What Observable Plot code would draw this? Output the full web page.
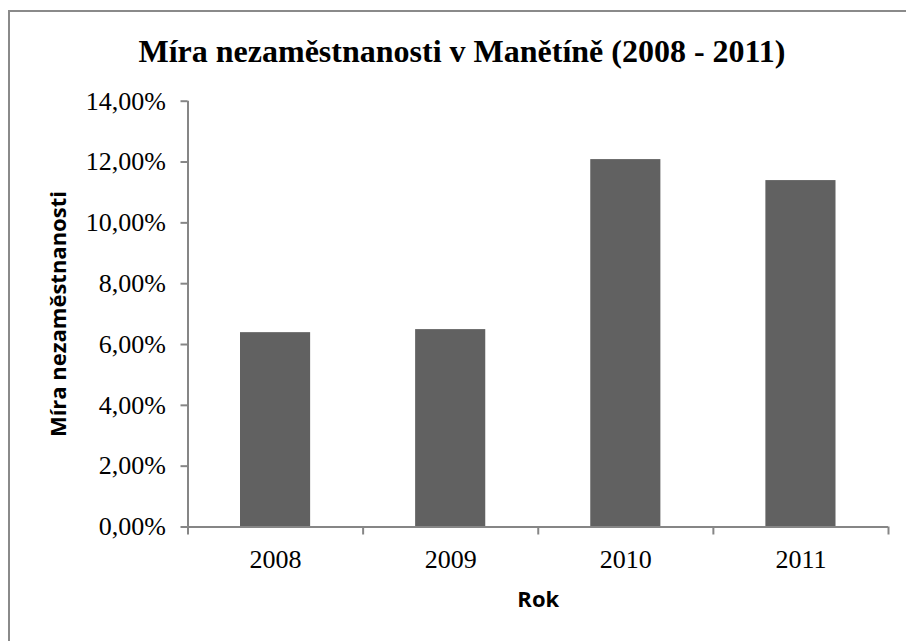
<!DOCTYPE html>
<html>
<head>
<meta charset="utf-8">
<script src="https://cdn.jsdelivr.net/npm/d3@7"></script>
<script src="https://cdn.jsdelivr.net/npm/@observablehq/plot@0.6"></script>
<style>
  html, body { margin: 0; padding: 0; background: #fff; overflow: hidden; width: 906px; height: 641px; }
  #wrap { position: relative; width: 906px; height: 641px; }
  #frame { position: absolute; left: 8px; top: 10px; width: 1000px; height: 1000px; border: 2px solid #8a8a8a; box-sizing: border-box; }
  #title { position: absolute; left: 0; width: 924px; top: 35px; text-align: center;
    font-family: "Liberation Serif", "Times New Roman", serif; font-weight: bold; font-size: 32px; line-height: 32px; color: #000; white-space: nowrap; }
  #chart { position: absolute; left: 0; top: 0; }
</style>
</head>
<body>
<div id="wrap">
  <div id="frame"></div>
  <div id="chart"></div>
  <div id="title">Míra nezaměstnanosti v Manětíně (2008 - 2011)</div>
</div>
<script>
const years = ["2008", "2009", "2010", "2011"];
const rates = [6.39, 6.49, 12.08, 11.39]; // percent
const yTicks = [0, 2, 4, 6, 8, 10, 12, 14];
const xTitle = "Rok";
const yTitle = "Míra nezaměstnanosti";

const data = years.map((y, i) => ({year: y, idx: i, rate: rates[i]}));
const fmt = d => d.toFixed(2).replace(".", ",") + "%";
const serif = "'Liberation Serif', 'Times New Roman', serif";
const sans = "'Open Sans', 'Liberation Sans', sans-serif";
const axisColor = "#868686";

const chart = Plot.plot({
  width: 906,
  height: 641,
  marginLeft: 187.5,
  marginRight: 18,
  marginTop: 100.7,
  marginBottom: 114.5,
  style: {background: "transparent", overflow: "visible"},
  x: {type: "linear", domain: [0, years.length], axis: null},
  y: {domain: [0, 14], axis: null},
  marks: [
    Plot.rectY(data, {x1: "idx", x2: d => d.idx + 1, y: "rate", fill: "#616161", insetLeft: 52.5, insetRight: 52.5}),
    Plot.ruleX([0], {y1: 0, y2: 14, stroke: axisColor, strokeWidth: 2}),
    Plot.ruleY([0], {x1: 0, x2: years.length, stroke: axisColor, strokeWidth: 2}),
    Plot.axisY({ticks: yTicks, tickFormat: fmt, tickSize: 7, tickPadding: 15, stroke: axisColor, strokeWidth: 2,
      fontSize: 26, fontFamily: serif, fill: "#000", label: null}),
    Plot.axisX({ticks: d3.range(years.length + 1), tickFormat: () => "", tickSize: 8, stroke: axisColor, strokeWidth: 2, label: null}),
    Plot.axisX({ticks: years.map((_, i) => i + 0.5), tickFormat: v => years[Math.floor(v)], tickSize: 0, tickPadding: 23,
      fontSize: 26, fontFamily: serif, fill: "#000", label: null}),
    Plot.text([xTitle], {frameAnchor: "bottom", dy: 73, text: d => d, fontSize: 22, fontWeight: "bold", fontFamily: sans, fill: "#000", lineAnchor: "middle"}),
    Plot.text([yTitle], {frameAnchor: "left", dx: -129.5, rotate: -90, text: d => d, fontSize: 22, fontWeight: "bold", fontFamily: sans, fill: "#000", textAnchor: "middle", lineAnchor: "middle"})
  ]
});
document.getElementById("chart").appendChild(chart);
</script>
</body>
</html>
